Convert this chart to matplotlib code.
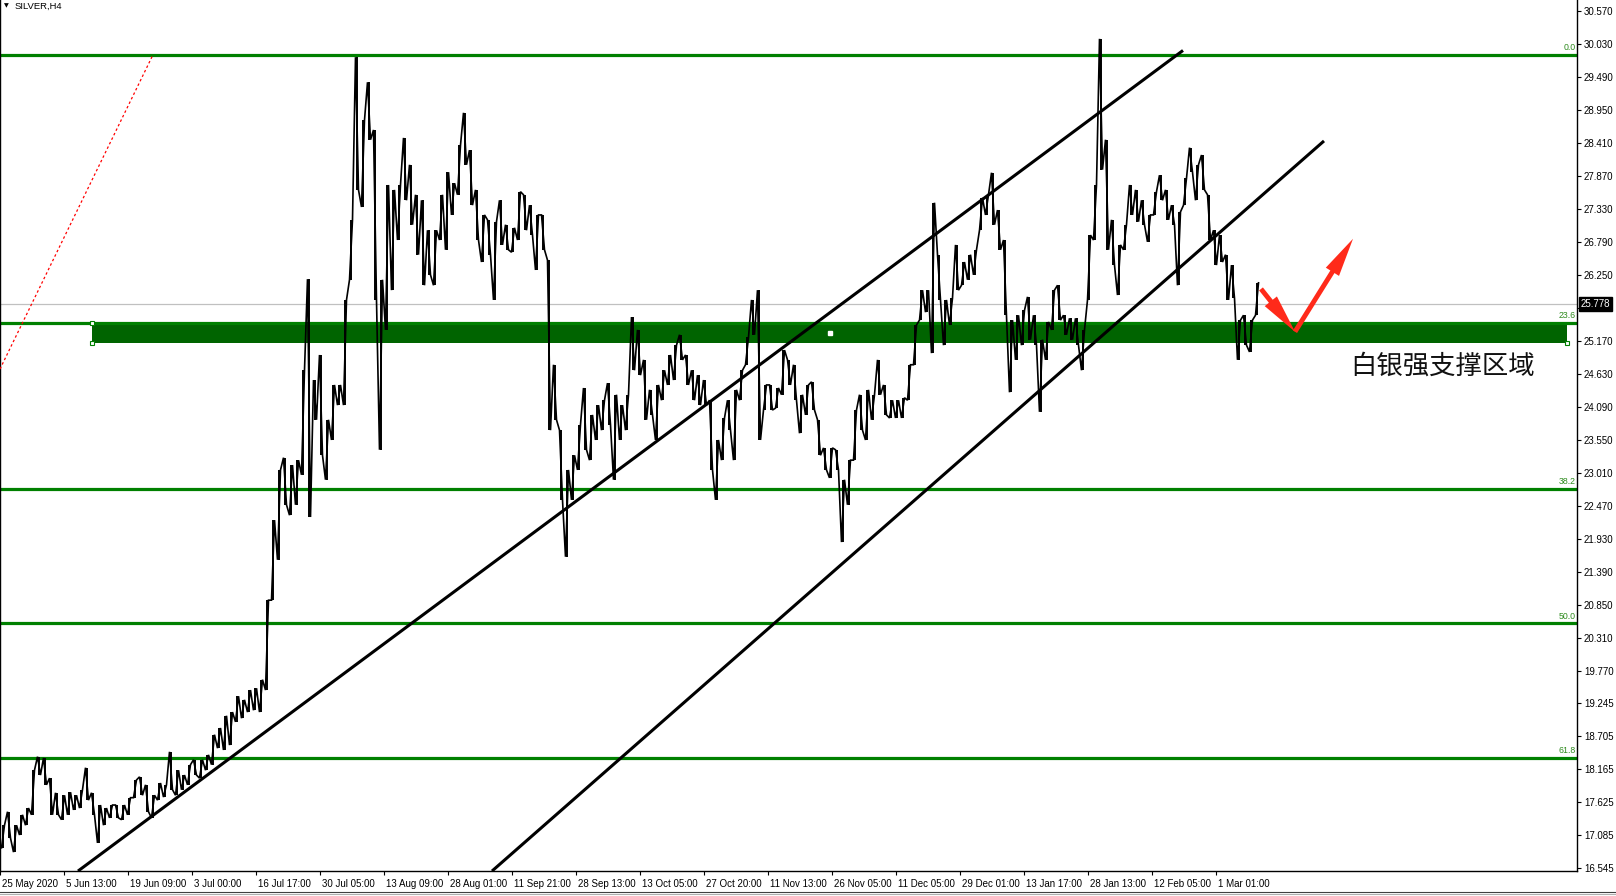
import matplotlib
matplotlib.use("Agg")
import matplotlib.pyplot as plt
from matplotlib.patches import Rectangle, FancyArrowPatch
from matplotlib.transforms import ScaledTranslation
import numpy as np

# ---------------- data ----------------
symbol = "SILVER,H4"

highs = [
    17.25, 17.47, 17.25, 17.42, 17.53, 18.15, 18.37, 18.35, 18.02, 17.78,
    17.74, 17.79, 17.74, 17.83, 18.19, 17.78, 17.58, 17.53, 17.58, 17.58,
    17.58, 17.70, 17.99, 18.04, 17.91, 17.74, 17.94, 17.91, 18.45, 18.15,
    18.07, 18.24, 18.32, 18.32, 18.40, 18.73, 18.84, 19.04, 19.10, 19.36,
    19.30, 19.46, 19.49, 19.63, 20.93, 22.24, 23.06, 23.26, 23.14, 23.22,
    24.69, 26.18, 24.53, 24.94, 23.88, 24.45, 24.45, 25.84, 27.15, 29.81,
    28.78, 29.40, 28.62, 26.17, 27.72, 27.64, 27.72, 28.49, 28.05, 27.56,
    27.47, 26.98, 26.98, 27.56, 27.93, 27.75, 28.37, 28.90, 28.29, 27.64,
    27.23, 27.15, 27.12, 27.47, 27.07, 27.02, 27.61, 27.56, 27.39, 27.23,
    27.23, 26.49, 24.78, 23.71, 23.06, 23.30, 23.80, 24.40, 23.96, 24.12,
    24.20, 24.48, 24.29, 24.12, 24.29, 25.56, 25.35, 24.86, 24.37, 24.45,
    24.69, 24.94, 25.10, 25.27, 24.94, 24.69, 24.61, 24.53, 24.20, 23.55,
    23.91, 24.20, 24.37, 24.69, 25.23, 25.84, 26.00, 24.45, 24.45, 24.40,
    25.02, 24.86, 24.78, 24.29, 24.45, 24.50, 23.88, 23.42, 23.42, 23.39,
    22.90, 23.22, 24.04, 24.29, 24.37, 24.29, 24.86, 24.45, 24.20, 24.20,
    24.24, 24.78, 25.43, 26.00, 26.00, 27.43, 26.58, 25.84, 25.87, 26.74,
    26.46, 26.58, 26.66, 27.51, 27.56, 27.92, 27.31, 26.82, 25.51, 25.59,
    25.67, 25.89, 25.59, 25.19, 25.48, 26.00, 26.08, 25.59, 25.54, 25.54,
    25.35, 26.90, 27.72, 30.11, 28.46, 27.15, 26.74, 27.07, 27.72, 27.64,
    27.47, 27.23, 27.61, 27.88, 27.64, 27.39, 27.28, 27.83, 28.33, 28.05,
    28.21, 27.56, 26.98, 26.90, 26.58, 26.41, 25.51, 25.59, 25.51, 26.12,
]

lows = [
    16.88, 17.04, 16.81, 17.09, 17.25, 17.42, 18.07, 17.91, 17.42, 17.42,
    17.34, 17.42, 17.50, 17.53, 17.66, 17.42, 16.96, 17.25, 17.37, 17.37,
    17.34, 17.42, 17.70, 17.74, 17.47, 17.37, 17.66, 17.71, 17.83, 17.74,
    17.83, 17.91, 18.07, 18.02, 18.15, 18.24, 18.51, 18.48, 18.56, 18.94,
    19.00, 19.10, 19.13, 19.10, 19.46, 20.93, 21.59, 22.49, 22.32, 22.49,
    22.98, 22.29, 23.88, 23.30, 22.90, 23.55, 24.12, 24.12, 26.17, 27.64,
    27.36, 28.46, 25.84, 23.39, 25.35, 26.00, 26.82, 27.47, 27.07, 26.58,
    26.08, 26.25, 26.08, 26.82, 26.66, 27.23, 27.56, 28.05, 27.39, 26.82,
    26.46, 26.58, 25.84, 26.74, 26.66, 26.62, 26.82, 26.98, 26.90, 26.33,
    26.66, 23.71, 23.88, 22.57, 21.64, 22.57, 23.06, 23.39, 23.22, 23.55,
    23.71, 23.80, 22.90, 23.55, 23.71, 24.69, 24.61, 23.88, 23.96, 23.55,
    24.20, 24.45, 24.53, 24.86, 24.45, 24.20, 24.12, 24.12, 23.06, 22.57,
    23.22, 23.71, 23.22, 24.20, 24.78, 25.27, 23.55, 24.04, 24.04, 24.07,
    24.29, 24.45, 24.20, 23.66, 23.96, 24.04, 23.30, 23.06, 22.93, 23.06,
    21.88, 22.49, 23.22, 23.71, 23.55, 23.88, 24.29, 23.96, 23.91, 23.91,
    23.91, 24.20, 24.78, 25.51, 25.64, 24.97, 25.84, 25.10, 25.43, 26.00,
    26.08, 26.17, 26.25, 26.98, 27.23, 27.07, 26.66, 25.59, 24.33, 24.86,
    25.10, 25.19, 25.10, 24.01, 24.86, 25.35, 25.51, 25.27, 25.19, 25.10,
    24.69, 25.84, 26.82, 27.97, 26.66, 26.41, 25.92, 26.66, 27.23, 27.12,
    27.07, 26.79, 27.23, 27.47, 27.15, 27.07, 26.08, 27.39, 27.93, 27.47,
    27.64, 26.82, 26.41, 26.46, 25.84, 25.87, 24.86, 25.10, 24.99, 25.59,
]

x_labels = ["25 May 2020", "5 Jun 13:00", "19 Jun 09:00", "3 Jul 00:00",
            "16 Jul 17:00", "30 Jul 05:00", "13 Aug 09:00", "28 Aug 01:00",
            "11 Sep 21:00", "28 Sep 13:00", "13 Oct 05:00", "27 Oct 20:00",
            "11 Nov 13:00", "26 Nov 05:00", "11 Dec 05:00", "29 Dec 01:00",
            "13 Jan 17:00", "28 Jan 13:00", "12 Feb 05:00", "1 Mar 01:00"]

y_ticks = [30.570, 30.030, 29.490, 28.950, 28.410, 27.870, 27.330, 26.790,
           26.250, 25.710, 25.170, 24.630, 24.090, 23.550, 23.010, 22.470,
           21.930, 21.390, 20.850, 20.310, 19.770, 19.245, 18.705, 18.165,
           17.625, 17.085, 16.545]

fib_high = 29.85
fib_low = 11.25
fib_levels = [0.0, 23.6, 38.2, 50.0, 61.8]
current_price = 25.778
zone_top = 25.46
zone_bottom = 25.14
zone_start = 92
zone_end = 1567

trend1_x = [78, 1183]
trend1_y = [16.50, 29.92]
trend2_x = [492, 1324]
trend2_y = [16.50, 28.44]
fib_trend_x = [0, 153]
fib_trend_y = [24.71, 29.85]

arrow_x = [1261, 1295, 1353]
arrow_y = [26.02, 25.32, 26.84]

zone_label = "白银强支撑区域"
zone_label_x = 1350
zone_label_y = 24.76

# ---------------- layout ----------------
W, H = 1616, 896
DPI = 100
fig = plt.figure(figsize=(W / DPI, H / DPI), dpi=DPI)
fig.patch.set_facecolor("white")
ax_left, ax_right, ax_top, ax_bottom = 0, 1577, 0, 871
ax = fig.add_axes([ax_left / W, (H - ax_bottom) / H,
                   (ax_right - ax_left) / W, (ax_bottom - ax_top) / H])
ax.set_facecolor("white")
ax.set_xlim(0, 1577)
ax.set_ylim(16.501, 30.745)

step = 6
n = len(highs)
xs, ys = [], []
for i in range(n):
    h, l = highs[i], lows[i]
    x0 = i * step
    mid = (h + l) / 2
    nmid = (highs[i + 1] + lows[i + 1]) / 2 if i + 1 < n else mid
    seq = (l, h) if nmid >= mid else (h, l)
    xs += [x0 + 1.5, x0 + 4.5]
    ys += list(seq)

GREEN = "#008000"
DARK_GREEN = "#006400"

# zone rectangle
ax.add_patch(Rectangle((zone_start, zone_bottom), zone_end - zone_start,
                       zone_top - zone_bottom, facecolor=DARK_GREEN,
                       edgecolor="none", zorder=1))

# fibonacci levels
rng = fib_high - fib_low
for lv in fib_levels:
    p = fib_high - rng * lv / 100.0
    ax.axhline(p, color=GREEN, lw=2.3, zorder=2)
    ax.annotate(f"{lv:.1f}", xy=(1.0, p), xycoords=("axes fraction", "data"),
                xytext=(-1, 2), textcoords="offset points", ha="right",
                va="bottom", fontsize=6.3, color="#2e8b1e",
                family="Liberation Sans", zorder=6)

# current price line
ax.axhline(current_price, color="#c0c0c0", lw=0.9, zorder=2)

# price path: high-low bars plus connecting zigzag
bar_x = [i * step + 3 for i in range(n)]
ax.vlines(bar_x, lows, highs, color="black", lw=1.4, zorder=3)
ax.plot(xs, ys, color="black", lw=1.2, zorder=3, solid_joinstyle="miter")

# zone handles
ax.plot([zone_start, zone_start, zone_end], [zone_top, zone_bottom, zone_bottom],
        ls="none", marker="s", ms=3, mfc="white", mec=GREEN, mew=0.8, zorder=5)
ax.plot([(zone_start + zone_end) / 2], [(zone_top + zone_bottom) / 2],
        ls="none", marker="s", ms=2.2, mfc="white", mec="white", zorder=5)

# trend lines
ax.plot(trend1_x, trend1_y, color="black", lw=2.2, zorder=4,
        solid_capstyle="butt")
ax.plot(trend2_x, trend2_y, color="black", lw=2.2, zorder=4,
        solid_capstyle="butt")
ax.plot(fib_trend_x, fib_trend_y, color="#ff0000", lw=0.9, ls=(0, (2, 2)),
        zorder=4)

# red arrows
RED = "#ff2a1a"
for k in range(2):
    arr = FancyArrowPatch((arrow_x[k], arrow_y[k]), (arrow_x[k + 1], arrow_y[k + 1]),
                          arrowstyle="simple,head_length=2.0,head_width=0.8,tail_width=0.25",
                          mutation_scale=14, color=RED, lw=0, zorder=6,
                          shrinkA=0, shrinkB=0)
    ax.add_patch(arr)

# zone label
ax.text(zone_label_x, zone_label_y, zone_label, fontsize=19,
        family=["Noto Sans CJK SC", "DejaVu Sans"], fontweight="light",
        color="#111111", ha="left", va="center", zorder=6)

# spines
ax.spines["top"].set_visible(False)
for s in ["left", "right", "bottom"]:
    ax.spines[s].set_color("black")
    ax.spines[s].set_linewidth(1.0)

# y axis on right (the 25.710 label is hidden behind the price box)
ax.yaxis.tick_right()
ax.set_yticks(y_ticks)
ax.set_yticklabels(["" if abs(v - 25.710) < 1e-6 else f"{v:.3f}" for v in y_ticks])
ax.tick_params(axis="y", direction="out", length=3, width=0.8, pad=2,
               labelsize=7, colors="black")
for t in ax.get_yticklabels():
    t.set_family("Liberation Sans")

# x axis
xt = [k * 64 for k in range(len(x_labels))]
ax.set_xticks(xt)
ax.set_xticklabels(x_labels, ha="left")
ax.tick_params(axis="x", direction="out", length=3, width=0.8, pad=3,
               labelsize=7, colors="black")
off = ScaledTranslation(2 / DPI, 0, fig.dpi_scale_trans)
for t in ax.get_xticklabels():
    t.set_family("Liberation Sans")
    t.set_transform(t.get_transform() + off)

# current price box
ax.annotate(f"{current_price:.3f}", xy=(1.0, current_price),
            xycoords=("axes fraction", "data"), xytext=(2.5, 0),
            textcoords="offset points", ha="left", va="center",
            fontsize=7, family="Liberation Sans", color="white",
            bbox=dict(boxstyle="square,pad=0.2", facecolor="black",
                      edgecolor="black"), zorder=10, annotation_clip=False)

# title
fig.text(4 / W, 1 - 6 / H, "\u25BC", fontsize=4.5, va="center", ha="left",
         family="DejaVu Sans", color="black")
fig.text(15 / W, 1 - 6 / H, symbol, fontsize=6.8, va="center", ha="left",
         family="Liberation Sans", color="black")

# bottom frame lines
fig.add_artist(plt.Line2D([0, 1], [1 - 892 / H, 1 - 892 / H], color="#404040",
                          lw=0.8, transform=fig.transFigure))
fig.add_artist(plt.Line2D([0, 1], [1 - 894 / H, 1 - 894 / H], color="#b0b0b0",
                          lw=0.8, transform=fig.transFigure))

fig.savefig("out.png", dpi=DPI, facecolor="white")
